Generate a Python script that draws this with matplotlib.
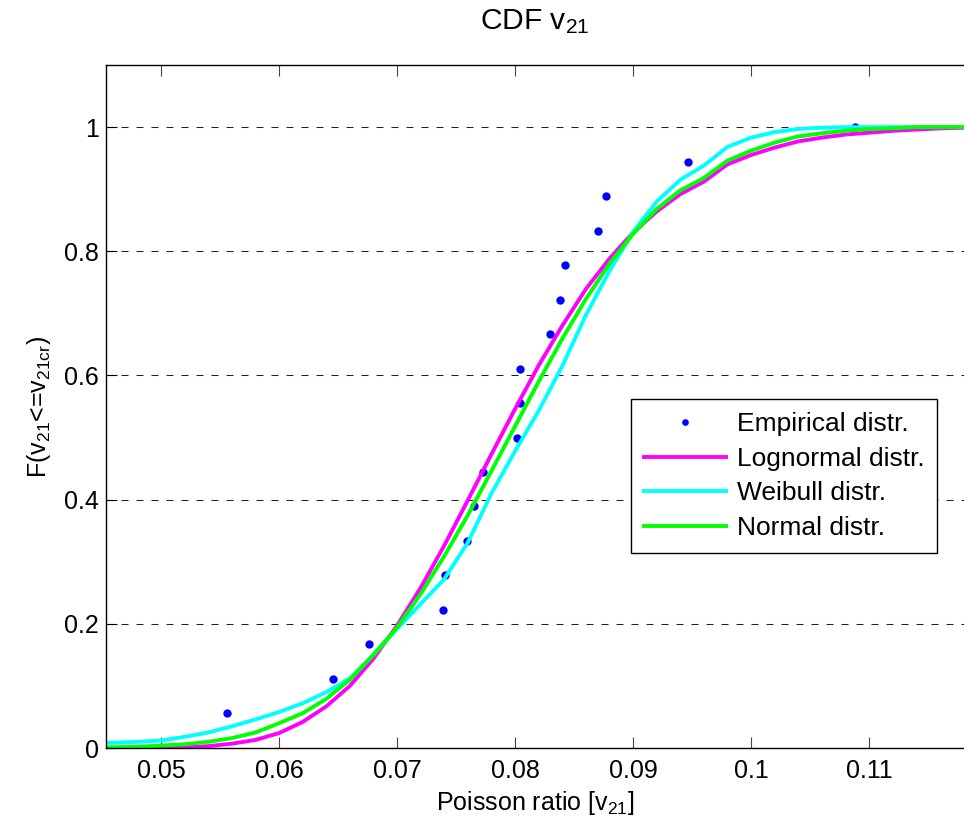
import matplotlib
matplotlib.use('Agg')
import matplotlib.pyplot as plt

plt.rcParams['font.family'] = ['Liberation Sans', 'DejaVu Sans']
plt.rcParams['mathtext.fontset'] = 'custom'
plt.rcParams['mathtext.rm'] = 'Liberation Sans'
plt.rcParams['mathtext.it'] = 'Liberation Sans'
plt.rcParams['font.size'] = 18

# empirical points
emp_x = [0.0556, 0.0646, 0.0676, 0.0739, 0.0741, 0.0759, 0.0765, 0.0773, 0.0802,
         0.0804, 0.0804, 0.0830, 0.0838, 0.0842, 0.0870, 0.0877, 0.0947, 0.1088]
emp_y = [0.056, 0.111, 0.167, 0.222, 0.278, 0.333, 0.389, 0.444, 0.500,
         0.556, 0.611, 0.667, 0.722, 0.778, 0.833, 0.889, 0.944, 1.000]

# fitted cdf curves
fit_x = [0.045, 0.048, 0.050, 0.052, 0.054, 0.056, 0.058, 0.060, 0.062, 0.064,
         0.066, 0.068, 0.070, 0.072, 0.074, 0.076, 0.078, 0.080, 0.082, 0.084,
         0.086, 0.088, 0.090, 0.092, 0.094, 0.096, 0.098, 0.100, 0.102, 0.104,
         0.106, 0.108, 0.110, 0.112, 0.114, 0.116, 0.118]
logn_y = [0.000, 0.000, 0.001, 0.001, 0.003, 0.007, 0.013, 0.024, 0.042, 0.067,
          0.100, 0.144, 0.197, 0.258, 0.326, 0.399, 0.473, 0.546, 0.616, 0.680,
          0.739, 0.788, 0.830, 0.864, 0.892, 0.912, 0.940, 0.955, 0.967, 0.977,
          0.983, 0.988, 0.991, 0.994, 0.996, 0.998, 0.999]
weib_y = [0.008, 0.010, 0.012, 0.018, 0.025, 0.035, 0.046, 0.058, 0.072, 0.090,
          0.112, 0.150, 0.192, 0.232, 0.272, 0.331, 0.410, 0.478, 0.543, 0.615,
          0.697, 0.768, 0.831, 0.880, 0.915, 0.938, 0.968, 0.983, 0.992, 0.997,
          0.999, 1.000, 1.000, 1.000, 1.000, 1.000, 1.000]
norm_y = [0.001, 0.002, 0.004, 0.006, 0.010, 0.016, 0.025, 0.040, 0.056, 0.079,
          0.110, 0.150, 0.194, 0.248, 0.309, 0.375, 0.446, 0.518, 0.590, 0.659,
          0.723, 0.780, 0.828, 0.868, 0.898, 0.918, 0.946, 0.962, 0.975, 0.985,
          0.990, 0.994, 0.997, 0.998, 1.000, 1.000, 1.000]

fig = plt.figure(figsize=(9.64, 8.27), dpi=100)
ax = fig.add_axes([0.110, 0.0955, 0.890, 0.8259])

ax.plot(emp_x, emp_y, 'o', color='#0000ff', markersize=6, markeredgewidth=0,
        label='Empirical distr.')
ax.plot(fit_x, logn_y, color='#ff00ff', lw=2.8, label='Lognormal distr.')
ax.plot(fit_x, weib_y, color='#00ffff', lw=2.8, label='Weibull distr.')
ax.plot(fit_x, norm_y, color='#00ff00', lw=2.8, label='Normal distr.')

ax.set_xlim(0.04534, 0.11805)
ax.set_ylim(0, 1.1)
ax.set_xticks([0.05, 0.06, 0.07, 0.08, 0.09, 0.1, 0.11])
ax.set_xticklabels(['0.05', '0.06', '0.07', '0.08', '0.09', '0.1', '0.11'])
ax.set_yticks([0, 0.2, 0.4, 0.6, 0.8, 1])
ax.set_yticklabels(['0', '0.2', '0.4', '0.6', '0.8', '1'])
ax.tick_params(axis='x', direction='in', length=8, width=0.8, top=True, pad=8,
               color='#444444')
ax.tick_params(axis='y', direction='in', length=8, width=0.8, pad=5)
ax.spines['right'].set_visible(False)
for s in ['left', 'bottom', 'top']:
    ax.spines[s].set_linewidth(1.0)
ax.yaxis.grid(True, linestyle=(0, (6.7, 7.7)), color='#222222', lw=0.75)
ax.set_axisbelow(True)

ax.set_title('CDF v$_{21}$', pad=26)
ax.set_xlabel('Poisson ratio [v$_{21}$]', labelpad=4)
ax.set_ylabel('F(v$_{21}$<=v$_{21cr}$)', labelpad=8)

leg = ax.legend(loc='upper left', bbox_to_anchor=(0.612, 0.511), numpoints=1,
                handlelength=3.1, handletextpad=0.4, labelspacing=0.4,
                borderpad=0.5, borderaxespad=0, fancybox=False, framealpha=1,
                markerscale=0.8, fontsize=19)
leg.get_frame().set_edgecolor('k')
leg.get_frame().set_linewidth(1.0)

fig.savefig('out.png', dpi=100)
